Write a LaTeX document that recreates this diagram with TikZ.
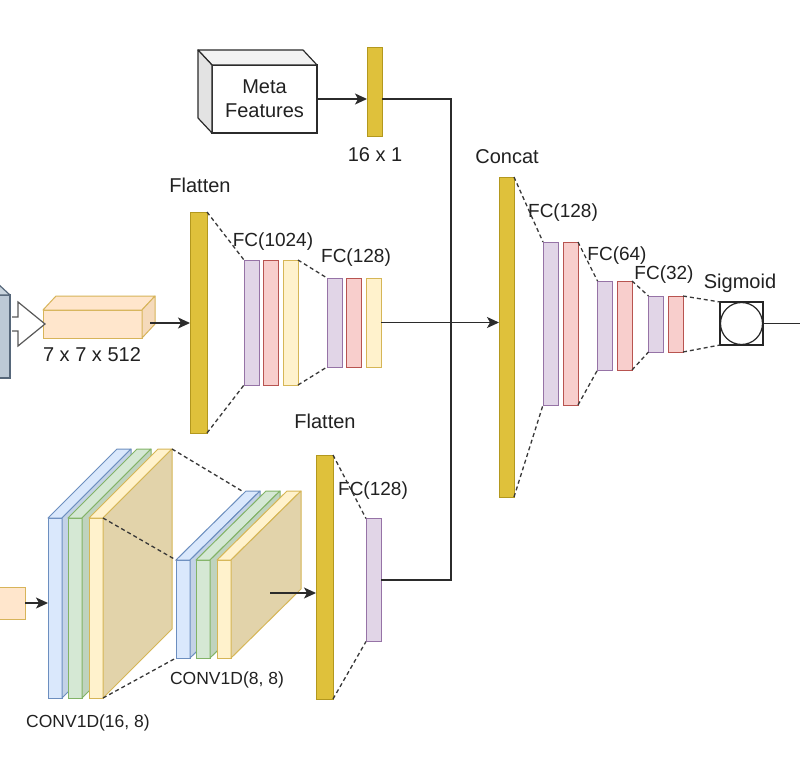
\documentclass[tikz,border=0pt]{standalone}
\usepackage{fontspec}
\setmainfont{Liberation Sans}
\usetikzlibrary{arrows.meta,calc}

\definecolor{goldF}{HTML}{DFC13B}
\definecolor{goldD}{HTML}{B3981E}
\definecolor{purF}{HTML}{E1D5E7}
\definecolor{purD}{HTML}{9673A6}
\definecolor{redF}{HTML}{F8CECC}
\definecolor{redD}{HTML}{B85450}
\definecolor{ylwF}{HTML}{FFF2CC}
\definecolor{ylwD}{HTML}{D6B656}
\definecolor{ylwS}{HTML}{E2D3AA}
\definecolor{bluF}{HTML}{DAE8FC}
\definecolor{bluD}{HTML}{6C8EBF}
\definecolor{bluS}{HTML}{C3D2E6}
\definecolor{grnF}{HTML}{D5E8D4}
\definecolor{grnD}{HTML}{82B366}
\definecolor{grnS}{HTML}{BFD3BE}
\definecolor{orgF}{HTML}{FFE6CC}
\definecolor{orgD}{HTML}{D7B45A}
\definecolor{orgS}{HTML}{F5DABB}
\definecolor{slateF}{HTML}{BCC9D6}
\definecolor{slateD}{HTML}{56677A}
\definecolor{lineC}{HTML}{2B2B2B}

% side faces of a box, depth going up-right / up-left
\newcommand{\facesR}[6]{%
  \filldraw[draw=#4, fill=#5, line width=1pt, line join=round] (#1.north west) -- ++(#2,#3) -- ($(#1.north east)+(#2,#3)$) -- (#1.north east) -- cycle;
  \filldraw[draw=#4, fill=#6, line width=1pt, line join=round] (#1.north east) -- ++(#2,#3) -- ($(#1.south east)+(#2,#3)$) -- (#1.south east) -- cycle;
}
\newcommand{\facesL}[6]{%
  \filldraw[draw=#4, fill=#5, line width=1.2pt, line join=round] (#1.north west) -- ++(#2,#3) -- ($(#1.north east)+(#2,#3)$) -- (#1.north east) -- cycle;
  \filldraw[draw=#4, fill=#6, line width=1.2pt, line join=round] (#1.north west) -- ++(#2,#3) -- ($(#1.south west)+(#2,#3)$) -- (#1.south west) -- cycle;
}

\tikzset{
  slab/.style={draw=#1D, fill=#1F, line width=1pt, inner sep=0pt, outer sep=0pt, minimum width=15pt},
  conn/.style={draw=lineC, line width=1.3pt},
  arr/.style={conn, -{Stealth[length=12pt,width=11pt,inset=3pt]}},
  guide/.style={draw=black!78, dash pattern=on 4pt off 3pt, line width=1.3pt},
  lbl/.style={font=\fontsize{20}{24}\selectfont, text=black!87},
  fclbl/.style={font=\fontsize{19}{23}\selectfont, text=black!87},
  cvlbl/.style={font=\fontsize{17.5}{21}\selectfont, text=black!87},
}

\begin{document}
\begin{tikzpicture}[x=1pt,y=-1pt]
  \clip (0,0) rectangle (800,773);
  \fill[white] (0,0) rectangle (800,773);

  % image branch
  \node[draw=slateD, fill=slateF, line width=1.2pt, inner sep=0pt, outer sep=0pt, minimum width=30pt, minimum height=83pt] (img) at (-5,336.5) {};
  \facesL{img}{-13}{-12}{slateD}{slateF!80!white}{slateF}
  \node[slab=org, minimum width=99pt, minimum height=28pt] (cube7) at (92.5,324) {};
  \facesR{cube7}{13}{-14}{orgD}{orgF}{orgS}
  \filldraw[draw=black!65, fill=white, line width=1.2pt, line join=miter]
    ($(img.east |- cube7.west)+(2,-7)$) -- ++(6,0) -- ++(0,-15) -- ($(cube7.west)+(2,0)$)
    -- ++(-27,22) -- ++(0,-15) -- ++(-6,0);
  \node[lbl] (l7) at (92,355) {7 x 7 x 512};
  \coordinate (cubeout) at (150,323);

  \node[slab=gold, minimum width=17pt, minimum height=221pt] (flat1) at (198.5,322.5) {};
  \node[lbl] (lflat1) at (200,185) {Flatten};
  \draw[arr] (cubeout) -- (cubeout -| flat1.west);

  \node[slab=pur, minimum height=125pt] (fa1) at (251.5,322.5) {};
  \node[slab=red, minimum height=125pt] (fa2) at (271,322.5) {};
  \node[slab=ylw, minimum height=125pt] (fa3) at (290.5,322.5) {};
  \node[fclbl] (lfa) at (273,242) {FC(1024)};
  \draw[guide] (flat1.north east) -- (fa1.north west);
  \draw[guide] (flat1.south east) -- (fa1.south west);

  \node[slab=pur, minimum height=89pt] (fb1) at (334.5,322.5) {};
  \node[slab=red, minimum height=89pt] (fb2) at (354,322.5) {};
  \node[slab=ylw, minimum height=89pt] (fb3) at (373.5,322.5) {};
  \node[fclbl] (lfb) at (356,258) {FC(128)};
  \draw[guide] (fa3.north east) -- (fb1.north west);
  \draw[guide] (fa3.south east) -- (fb1.south west);

  % meta branch
  \node[draw=lineC, fill=white, line width=1.2pt, inner sep=0pt, outer sep=0pt, minimum width=105pt, minimum height=68pt, align=center, lbl] (meta) at (264.5,99) {Meta\\Features};
  \facesL{meta}{-14}{-15}{lineC}{black!5}{black!11}
  \node[slab=gold, minimum height=89pt] (mbar) at (374.5,92.5) {};
  \node[lbl] (l16) at (375,155) {16 x 1};
  \draw[arr] (meta.east) -- (meta.east -| mbar.west);

  % signal branch
  \node[slab=org, draw=orgD, minimum width=40pt, minimum height=32pt] (orng) at (5,603) {};
  \node[slab=blu, minimum width=14pt, minimum height=180pt] (c1a) at (55,608) {};
  \facesR{c1a}{69}{-69}{bluD}{bluF}{bluS}
  \node[slab=grn, minimum width=14pt, minimum height=180pt] (c1b) at (75,608) {};
  \facesR{c1b}{69}{-69}{grnD}{grnF}{grnS}
  \node[slab=ylw, minimum width=14pt, minimum height=180pt] (c1c) at (96,608) {};
  \facesR{c1c}{69}{-69}{ylwD}{ylwF}{ylwS}
  \draw[arr] (orng.east) -- (orng.east -| c1a.west);
  \node[cvlbl] (lc1) at (88,723) {CONV1D(16, 8)};

  \node[slab=blu, minimum width=14pt, minimum height=98pt] (c2a) at (183,609) {};
  \facesR{c2a}{70}{-69}{bluD}{bluF}{bluS}
  \node[slab=grn, minimum width=14pt, minimum height=98pt] (c2b) at (203,609) {};
  \facesR{c2b}{70}{-69}{grnD}{grnF}{grnS}
  \node[slab=ylw, minimum width=14pt, minimum height=98pt] (c2c) at (224,609) {};
  \facesR{c2c}{70}{-69}{ylwD}{ylwF}{ylwS}
  \node[cvlbl] (lc2) at (227,680) {CONV1D(8, 8)};
  \draw[guide] (c1c.north east) -- (c2a.north west);
  \draw[guide] (c1c.south east) -- (c2a.south west);
  \draw[guide] ($(c1c.north east)+(69,-69)$) -- ($(c2a.north west)+(66,-69)$);

  \node[slab=gold, minimum width=17pt, minimum height=244pt] (flat2) at (324.5,577) {};
  \node[lbl] (lflat2) at (325,421) {Flatten};
  \coordinate (c2out) at (270,593);
  \draw[arr] (c2out) -- (c2out -| flat2.west);
  \node[slab=pur, minimum height=123pt] (fcc) at (373.5,580) {};
  \node[fclbl] (lfc) at (373,491) {FC(128)};
  \draw[guide] (flat2.north east) -- (fcc.north west);
  \draw[guide] (flat2.south east) -- (fcc.south west);

  % merge into concat
  \node[slab=gold, minimum height=320pt] (concat) at (506.5,337) {};
  \node[lbl] (lcat) at (507,157) {Concat};
  \coordinate (join) at (451,322.5);
  \draw[conn] (mbar.east |- meta.east) -| (join);
  \draw[conn] (fcc.east) -| (join);
  \draw[arr] (fb3.east) -- (fb3.east -| concat.west);

  \node[slab=pur, minimum height=163pt] (ca1) at (550.5,323.5) {};
  \node[slab=red, minimum height=163pt] (ca2) at (570.5,323.5) {};
  \node[fclbl] (lca) at (563,213) {FC(128)};
  \draw[guide] (concat.north east) -- (ca1.north west);
  \draw[guide] (concat.south east) -- (ca1.south west);

  \node[slab=pur, minimum height=89pt] (cb1) at (605,325.5) {};
  \node[slab=red, minimum height=89pt] (cb2) at (624.5,325.5) {};
  \node[fclbl] (lcb) at (617,256) {FC(64)};
  \draw[guide] (ca2.north east) -- (cb1.north west);
  \draw[guide] (ca2.south east) -- (cb1.south west);

  \node[slab=pur, minimum height=56pt] (cc1) at (656,324) {};
  \node[slab=red, minimum height=56pt] (cc2) at (675.5,324) {};
  \node[fclbl] (lcc) at (664,275) {FC(32)};
  \draw[guide] (cb2.north east) -- (cc1.north west);
  \draw[guide] (cb2.south east) -- (cc1.south west);

  \node[draw=black!85, line width=1.2pt, inner sep=0pt, outer sep=0pt, minimum size=43pt] (sig) at (741.5,323.5) {};
  \draw[black!85, line width=1.2pt] (sig.center) circle (21);
  \node[lbl] (lsig) at (740,283) {Sigmoid};
  \draw[guide] (cc2.north east) -- (sig.north west);
  \draw[guide] (cc2.south east) -- (sig.south west);
  \coordinate (out) at (805,323.5);
  \draw[conn] (sig.east) -- (out);
\end{tikzpicture}
\end{document}
